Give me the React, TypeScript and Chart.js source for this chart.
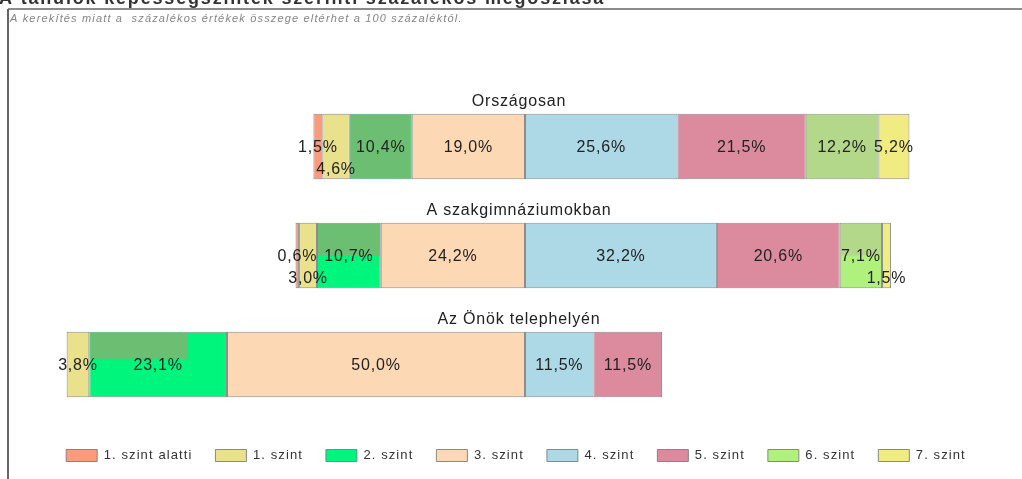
import React, { useEffect, useRef } from 'react';
import { Chart, registerables } from 'chart.js';

Chart.register(...registerables);

// ---------- data ----------
const categories = ['Országosan', 'A szakgimnáziumokban', 'Az Önök telephelyén'];
const levelNames = ['1. szint alatti', '1. szint', '2. szint', '3. szint', '4. szint', '5. szint', '6. szint', '7. szint'];
const belowLevel1 = [1.5, 0.6, 0];
const level1 = [4.6, 3.0, 3.8];
const level2 = [10.4, 10.7, 23.1];
const level3 = [19.0, 24.2, 50.0];
const level4 = [25.6, 32.2, 11.5];
const level5 = [21.5, 20.6, 11.5];
const level6 = [12.2, 7.1, 0];
const level7 = [5.2, 1.5, 0];
const titleText = 'A tanulók képességszintek szerinti százalékos megoszlása';
const noteText = 'A kerekítés miatt a  százalékos értékek összege eltérhet a 100 százaléktól.';

const seriesValues = [belowLevel1, level1, level2, level3, level4, level5, level6, level7];
const leftCount = 4; // levels below "4. szint" are drawn to the left of the zero line

// ---------- style ----------
const FONT = '"Liberation Sans", Arial, sans-serif';
const LEGEND_SPACING = '1.1px';
const colors = ['#FA9B7C', '#EAE18C', '#00F57C', '#FDD8B5', '#ADD8E6', '#DB8B9D', '#B0F07C', '#F0EC82'];
// rendering artifacts in the reference: muted overlays on some segments [dataset, row, fx0, fx1, fy0, fy1, color]
const overlays: [number, number, number, number, number, number, string][] = [
  [2, 0, 0, 1, 0, 1, '#6CBF72'],
  [2, 1, 0, 1, 0, 0.5, '#6CBF72'],
  [2, 2, 0, 0.715, 0, 0.41, '#6CBF72'],
  [6, 0, 0, 1, 0, 1, '#B4D88A'],
  [6, 1, 0, 1, 0, 0.5, '#B4D88A'],
];

const fmt = (v: number) => v.toFixed(1).replace('.', ',') + '%';

const decorPlugin = {
  id: 'decor',
  beforeLayout(chart: any) {
    chart.ctx.letterSpacing = LEGEND_SPACING;
  },
  beforeDraw(chart: any) {
    const ctx = chart.ctx;
    ctx.save();
    ctx.letterSpacing = '0px';
    // frame
    ctx.strokeStyle = '#666';
    ctx.lineWidth = 2;
    ctx.beginPath();
    ctx.moveTo(8, 9);
    ctx.lineTo(8, chart.height);
    ctx.stroke();
    ctx.lineWidth = 1.5;
    ctx.beginPath();
    ctx.moveTo(8, 9);
    ctx.lineTo(chart.width, 9);
    ctx.stroke();
    // main title (clipped at top)
    ctx.font = `bold 18px ${FONT}`;
    ctx.fillStyle = '#333';
    ctx.textBaseline = 'alphabetic';
    ctx.textAlign = 'left';
    let w = ctx.measureText(titleText).width;
    ctx.letterSpacing = ((606 - w) / titleText.length).toFixed(2) + 'px';
    ctx.fillText(titleText, -1, 4);
    // note
    ctx.letterSpacing = '0px';
    ctx.font = `italic 11px ${FONT}`;
    ctx.fillStyle = '#858585';
    w = ctx.measureText(noteText).width;
    ctx.letterSpacing = ((453 - w) / noteText.length).toFixed(2) + 'px';
    ctx.fillText(noteText, 10, 22);
    ctx.restore();
    ctx.letterSpacing = LEGEND_SPACING;
  },
  afterDatasetsDraw(chart: any) {
    const ctx = chart.ctx;
    ctx.save();
    // overlays
    for (const [d, r, fx0, fx1, fy0, fy1, col] of overlays) {
      const el = chart.getDatasetMeta(d).data[r];
      if (!el) continue;
      const { x, base, y, height } = el.getProps(['x', 'base', 'y', 'height'], true);
      const left = Math.min(x, base) + 1;
      const width = Math.abs(x - base) - 2;
      const top = y - height / 2 + 1;
      const h = height - 2;
      ctx.fillStyle = col;
      ctx.fillRect(left + width * fx0, top + h * fy0, width * (fx1 - fx0), h * (fy1 - fy0));
    }
    // value labels
    ctx.letterSpacing = '0.8px';
    ctx.font = `16px ${FONT}`;
    ctx.fillStyle = '#222';
    ctx.textAlign = 'center';
    ctx.textBaseline = 'middle';
    const titleX = chart.scales.x.getPixelForValue(0) - 6;
    for (let r = 0; r < categories.length; r++) {
      let lastRight = -Infinity;
      let barTop = 0;
      for (let d = 0; d < seriesValues.length; d++) {
        const el = chart.getDatasetMeta(d).data[r];
        const { x, base, y, height } = el.getProps(['x', 'base', 'y', 'height'], true);
        barTop = y - height / 2;
        const v = seriesValues[d][r];
        if (!v) continue;
        const cx = (x + base) / 2;
        const txt = fmt(v);
        const tw = ctx.measureText(txt).width;
        let ty = y + 1;
        if (cx - tw / 2 < lastRight) {
          ty = y + height * 0.36;
        } else {
          lastRight = cx + tw / 2;
        }
        ctx.fillText(txt, cx, ty);
      }
      ctx.textBaseline = 'alphabetic';
      ctx.fillText(categories[r], titleX, barTop - 8);
      ctx.textBaseline = 'middle';
    }
    ctx.restore();
    ctx.letterSpacing = LEGEND_SPACING;
  },
};

export default function App() {
  const ref = useRef<HTMLCanvasElement>(null);
  useEffect(() => {
    const datasets = seriesValues.map((vals, i) => ({
      label: levelNames[i],
      data: vals.map((v) => (i < leftCount ? -v : v)),
      backgroundColor: colors[i],
      borderColor: 'rgba(120,120,120,0.85)',
      borderWidth: 1,
      borderSkipped: false,
      order: i < leftCount ? leftCount - 1 - i : i,
      stack: 'levels',
      categoryPercentage: 1,
      barPercentage: 0.6,
    }));
    const chart = new Chart(ref.current as HTMLCanvasElement, {
      type: 'bar',
      data: { labels: categories, datasets: datasets as any },
      options: {
        indexAxis: 'y',
        responsive: false,
        animation: false,
        events: [],
        layout: { padding: { left: 30, right: 20, top: 92, bottom: 7 } },
        scales: {
          x: { type: 'linear', stacked: true, min: -83.05, max: 80.03, display: false },
          y: { type: 'category', stacked: true, display: false },
        },
        plugins: {
          tooltip: { enabled: false },
          title: { display: false },
          legend: {
            position: 'bottom',
            title: { display: true, text: '', padding: 0, font: { size: 7, lineHeight: 1 } },
            labels: {
              boxWidth: 31,
              boxHeight: 12,
              padding: 23,
              color: '#333',
              font: { size: 13, family: FONT },
              sort: (a: any, b: any) => a.datasetIndex - b.datasetIndex,
            },
          },
        },
      },
      plugins: [decorPlugin],
    });
    return () => chart.destroy();
  }, []);
  return (
    <div style={{ position: 'fixed', left: 0, top: 0, width: 1022, height: 479, background: '#fff' }}>
      <canvas ref={ref} width={1022} height={479} style={{ display: 'block' }} />
    </div>
  );
}
